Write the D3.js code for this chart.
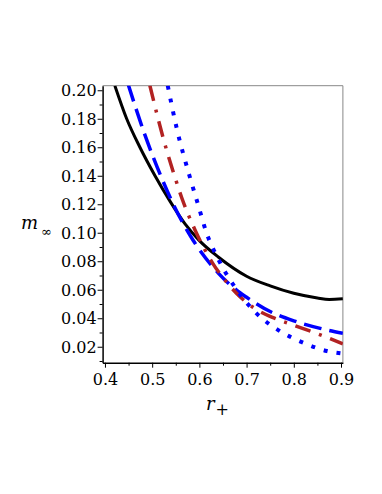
<!DOCTYPE html>
<html><head><meta charset="utf-8">
<script src="https://cdn.jsdelivr.net/npm/d3@7"></script>
<style>body{margin:0;background:#fff}svg{display:block}</style>
</head><body>
<script>
// Data
const xTicks = [0.4, 0.5, 0.6, 0.7, 0.8, 0.9];
const xTickLabels = ["0.4", "0.5", "0.6", "0.7", "0.8", "0.9"];
const yTicks = [0.02, 0.04, 0.06, 0.08, 0.10, 0.12, 0.14, 0.16, 0.18, 0.20];
const yTickLabels = ["0.02", "0.04", "0.06", "0.08", "0.10", "0.12", "0.14", "0.16", "0.18", "0.20"];

const blackR = [0.421, 0.446, 0.474, 0.506, 0.538, 0.57, 0.60, 0.64, 0.70, 0.75, 0.80, 0.85, 0.875, 0.904];
const blackM = [0.2032, 0.18, 0.16, 0.14, 0.122, 0.106, 0.0945, 0.083, 0.0695, 0.0627, 0.0575, 0.0542, 0.0532, 0.0536];

const dashR = [0.449, 0.485, 0.52, 0.545, 0.587, 0.626, 0.640, 0.686, 0.70, 0.75, 0.80, 0.856, 0.904];
const dashM = [0.2043, 0.1683, 0.1385, 0.1198, 0.0946, 0.0770, 0.0717, 0.0579, 0.0547, 0.0447, 0.0382, 0.0329, 0.0295];

const dashDotR = [0.495, 0.525, 0.548, 0.563, 0.591, 0.629, 0.658, 0.686, 0.72, 0.76, 0.80, 0.85, 0.904];
const dashDotM = [0.2035, 0.1645, 0.1392, 0.1242, 0.1018, 0.0782, 0.0652, 0.0551, 0.0463, 0.0399, 0.0351, 0.0291, 0.0221];

const dotR = [0.533, 0.552, 0.579, 0.597, 0.615, 0.640, 0.682, 0.721, 0.767, 0.820, 0.870, 0.904];
const dotM = [0.2032, 0.1733, 0.140, 0.12, 0.10, 0.0815, 0.0586, 0.0434, 0.0317, 0.0228, 0.017, 0.0152];

const W = 382, H = 494;
const svg = d3.select("body").append("svg").attr("width", W).attr("height", H);
svg.append("rect").attr("width", W).attr("height", H).attr("fill", "#fff");

const x = d3.scaleLinear().domain([0.395, 0.904]).range([102.6, 342.9]);
const y = d3.scaleLinear().domain([0.0088, 0.2032]).range([362.7, 85.7]);

const font = "'DejaVu Serif', serif";

svg.append("clipPath").attr("id", "clip").append("rect")
  .attr("x", x.range()[0]).attr("y", y.range()[1])
  .attr("width", x.range()[1] - x.range()[0]).attr("height", y.range()[0] - y.range()[1]);

// frame top/right
svg.append("line").attr("x1", x.range()[0]).attr("x2", x.range()[1]).attr("y1", y.range()[1]).attr("y2", y.range()[1])
  .attr("stroke", "#888").attr("stroke-width", 1);
svg.append("line").attr("x1", x.range()[1]).attr("x2", x.range()[1]).attr("y1", y.range()[1]).attr("y2", y.range()[0])
  .attr("stroke", "#888").attr("stroke-width", 1);

// series
const line = d3.line().x(d => x(d[0])).y(d => y(d[1])).curve(d3.curveMonotoneX);
const g = svg.append("g").attr("clip-path", "url(#clip)");
const series = [
  {r: blackR, m: blackM, color: "#000", w: 3, dash: null},
  {r: dashR, m: dashM, color: "#0000ff", w: 3.5, dash: "18,8"},
  {r: dashDotR, m: dashDotM, color: "#b22222", w: 3.5, dash: "16,9,3,9"},
  {r: dotR, m: dotM, color: "#0000ff", w: 4, dash: "4,9"}
];
series.forEach(s => {
  g.append("path").datum(s.r.map((v, i) => [v, s.m[i]]))
    .attr("d", line).attr("fill", "none").attr("stroke", s.color)
    .attr("stroke-width", s.w).attr("stroke-dasharray", s.dash);
});

// axes
const xAxis = d3.axisBottom(x).tickValues(xTicks).tickFormat((d, i) => xTickLabels[i]).tickSize(5).tickSizeOuter(0);
const xMinor = d3.axisBottom(x).tickValues(xTicks.slice(0, -1).map(v => v + 0.05)).tickFormat("").tickSize(3).tickSizeOuter(0);
const yAxis = d3.axisLeft(y).tickValues(yTicks).tickFormat((d, i) => yTickLabels[i]).tickSize(5).tickSizeOuter(0);
const yMinor = d3.axisLeft(y).tickValues(d3.range(0.01, 0.205, 0.02)).tickFormat("").tickSize(3).tickSizeOuter(0);

const gx = svg.append("g").attr("transform", `translate(0,${y.range()[0]})`).call(xAxis);
svg.append("g").attr("transform", `translate(0,${y.range()[0]})`).call(xMinor).select(".domain").remove();
const gy = svg.append("g").attr("transform", `translate(${x.range()[0]},0)`).call(yAxis);
svg.append("g").attr("transform", `translate(${x.range()[0]},0)`).call(yMinor).select(".domain").remove();

[gx, gy].forEach(a => {
  a.select(".domain").attr("stroke", "#000").attr("stroke-width", 1.5);
  a.selectAll("text").attr("font-family", font).attr("font-size", 16).attr("fill", "#000");
});
gx.selectAll("text").attr("dy", null).attr("y", 22);
gy.selectAll("text").attr("x", -6).attr("dy", "0.35em");

// axis labels
const yl = svg.append("text").attr("x", 21).attr("y", 229).attr("font-family", font).attr("font-size", 18);
yl.append("tspan").attr("font-style", "italic").text("m");
yl.append("tspan").attr("font-size", 13).attr("dx", 3).attr("dy", 7).text("∞");

const xl = svg.append("text").attr("x", 206).attr("y", 410).attr("font-family", font).attr("font-size", 18);
xl.append("tspan").attr("font-style", "italic").text("r");
xl.append("tspan").attr("font-size", 16).attr("dx", 1).attr("dy", 5).text("+");
</script>
</body></html>
